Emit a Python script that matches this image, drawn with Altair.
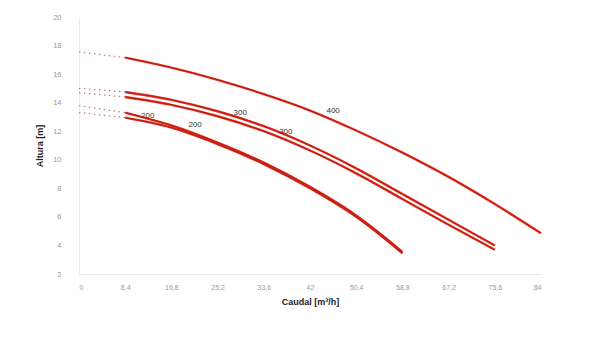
import altair as alt
import pandas as pd

# Flow (m3/h) tick values
caudal = [0, 8.4, 16.8, 25.2, 33.6, 42, 50.4, 58.8, 67.2, 75.6, 84]
alturas_ticks = [2, 4, 6, 8, 10, 12, 14, 16, 18, 20]

# Head (m) at each flow value
altura_400 = [17.55, 17.15, 16.45, 15.6, 14.6, 13.45, 12.05, 10.5, 8.8, 6.9, 4.85]
altura_300a = [15.0, 14.75, 14.2, 13.4, 12.35, 11.0, 9.4, 7.6, 5.8, 4.0, None]
altura_300b = [14.7, 14.4, 13.85, 13.05, 12.0, 10.65, 9.05, 7.25, 5.45, 3.7, None]
altura_200a = [13.8, 13.3, 12.4, 11.2, 9.8, 8.1, 6.1, 3.55, None, None, None]
altura_200b = [13.3, 12.95, 12.25, 11.1, 9.7, 8.0, 6.0, 3.45, None, None, None]

# curve labels
label_txt = ["200", "200", "300", "300", "400"]
label_q = [12.5, 21.1, 29.3, 37.6, 46.2]
label_h = [13.1, 12.45, 13.3, 11.95, 13.45]

curves = {
    "400": altura_400,
    "300a": altura_300a,
    "300b": altura_300b,
    "200a": altura_200a,
    "200b": altura_200b,
}

rows = []
for name, hs in curves.items():
    for i, (q, h) in enumerate(zip(caudal, hs)):
        if h is None:
            continue
        if i <= 1:
            rows.append(dict(curve=name, part="dot", q=q, h=h))
        if i >= 1:
            rows.append(dict(curve=name, part="solid", q=q, h=h))
df = pd.DataFrame(rows)
labels = pd.DataFrame({"q": label_q, "h": label_h, "t": label_txt})

xscale = alt.Scale(domain=[0, 84], nice=False, zero=False)
yscale = alt.Scale(domain=[2, 20], nice=False, zero=False)

xaxis = alt.Axis(
    values=caudal, title="Caudal [m³/h]", titleFontWeight="bold", titleFontSize=9,
    titleColor="#222", labelFontSize=7, labelColor="#9a9a9a", domainColor="#e8e8e8",
    ticks=False, grid=False, labelPadding=9, titlePadding=7, labelFont="Liberation Sans",
    titleFont="Liberation Sans", labelOverlap=False,
    labelExpr="replace(toString(datum.value), '.', ',')",
)
yaxis = alt.Axis(
    values=alturas_ticks, title="Altura [m]", titleFontWeight="bold", titleFontSize=9,
    titleColor="#222", labelFontSize=7.5, labelColor="#9a9a9a", domainColor="#ececec",
    ticks=False, grid=False, labelPadding=18, titlePadding=8, labelFont="Liberation Sans",
    titleFont="Liberation Sans", labelOverlap=False,
)

base = alt.Chart(df).encode(
    x=alt.X("q:Q", scale=xscale, axis=xaxis),
    y=alt.Y("h:Q", scale=yscale, axis=yaxis),
    detail="curve:N",
    order="q:Q",
)

dots = base.transform_filter(alt.datum.part == "dot").mark_line(
    color="#b87a7a", strokeWidth=1.2, strokeDash=[1.5, 3.5]
)
outer = base.transform_filter(alt.datum.part == "solid").mark_line(
    color="#f0301e", strokeWidth=2.4, interpolate="monotone"
)
inner = base.transform_filter(alt.datum.part == "solid").mark_line(
    color="#7a1212", strokeWidth=0.6, interpolate="monotone"
)
text = alt.Chart(labels).mark_text(
    fontSize=8, color="#333", font="Liberation Sans"
).encode(
    x=alt.X("q:Q", scale=xscale, axis=xaxis),
    y=alt.Y("h:Q", scale=yscale, axis=yaxis),
    text="t:N",
)

chart = (
    alt.layer(dots, outer, inner, text)
    .properties(
        width=462, height=257,
        autosize=alt.AutoSizeParams(type="none"),
        padding={"left": 79, "top": 17, "right": 65, "bottom": 81},
        background="white",
    )
    .configure_view(stroke=None)
    .configure_axis(labelOverlap=False)
)

chart.save("out.html", embed_options={"renderer": "svg", "actions": False})
